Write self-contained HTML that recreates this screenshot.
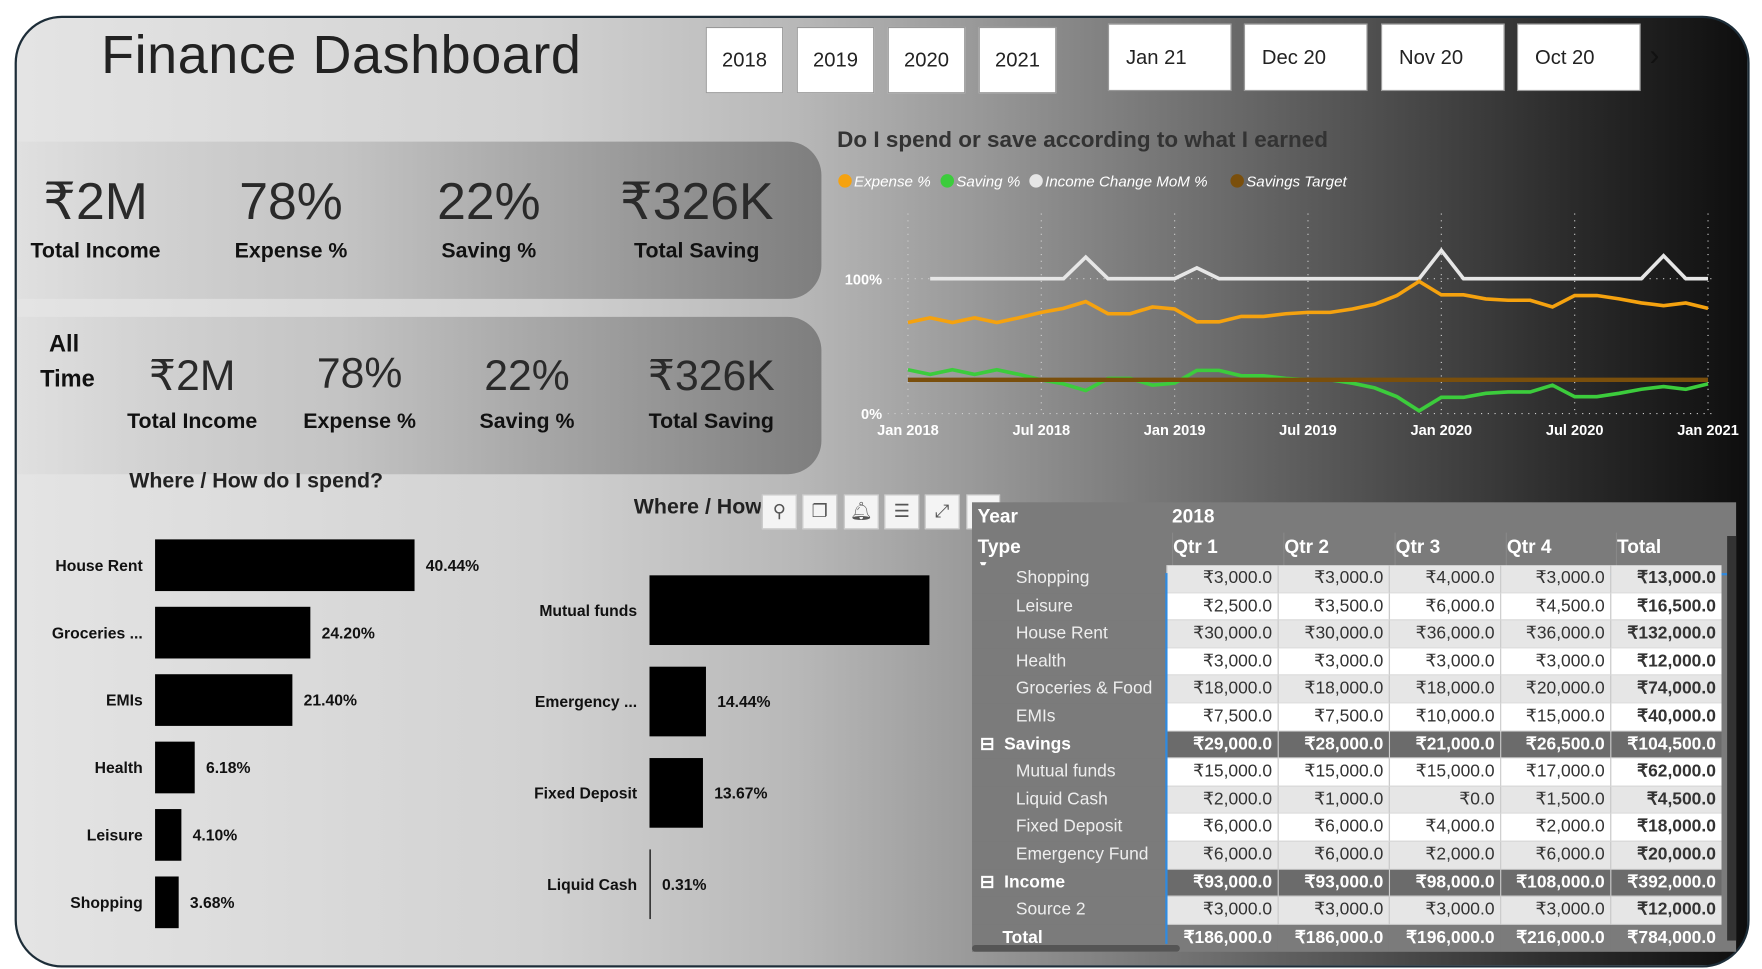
<!DOCTYPE html>
<html><head><meta charset="utf-8">
<style>
html,body{margin:0;padding:0;background:#fff;width:1762px;height:969px;overflow:hidden}
#wrap{position:absolute;left:0;top:0;width:1568px;height:862px;transform:scale(1.1237);transform-origin:0 0;font-family:"Liberation Sans",sans-serif}
#frame{position:absolute;left:13px;top:14px;width:1540px;height:843px;border:2px solid #1d2d38;border-radius:42px;overflow:hidden;
background:linear-gradient(90deg,#e4e4e4 0%,#d2d2d2 30%,#b8b8b8 45%,#9a9a9a 55%,#5a5a5a 75%,#2a2a2a 90%,#0e0e0e 100%)}
.abs{position:absolute}
.btn{position:absolute;background:#fff;border:1px solid #999;font-size:18px;color:#222;display:flex;align-items:center;box-sizing:border-box}
.card{position:absolute;left:0;width:716px;height:140px;border-radius:0 30px 30px 0;background:linear-gradient(90deg,rgba(200,200,200,0.15),#c4c4c4 40%,#7e7e7e 100%)}
.kv{position:absolute;transform:translateX(-50%);white-space:nowrap;color:#2a2a2a;text-align:center}
.kl{position:absolute;transform:translateX(-50%);white-space:nowrap;color:#111;font-weight:bold;font-size:19px}
.tb{position:absolute;width:31px;height:31px;background:#f4f4f4;border:1px solid #ccc;box-sizing:border-box;top:440px;color:#555;font-size:16px;text-align:center;line-height:29px}
#tbl{position:absolute;left:865px;top:447px;width:680px;height:400px;background:#7b7b7b;overflow:hidden;font-size:15.5px}
.cell{position:absolute;box-sizing:border-box;height:24.6px;line-height:24.6px;padding-right:5px;text-align:right;color:#333;white-space:nowrap}
</style></head><body>
<div id="wrap">
<div id="frame"></div>
<div class="abs" style="left:90px;top:22px;font-size:48px;color:#222;letter-spacing:0.5px">Finance Dashboard</div>

<div class="btn" style="left:628px;top:24px;width:69px;height:59px;justify-content:center">2018</div>
<div class="btn" style="left:709px;top:24px;width:69px;height:59px;justify-content:center">2019</div>
<div class="btn" style="left:790px;top:24px;width:69px;height:59px;justify-content:center">2020</div>
<div class="btn" style="left:871px;top:24px;width:69px;height:59px;justify-content:center">2021</div>
<div class="btn" style="left:986px;top:21px;width:110px;height:60px;padding-left:15px">Jan 21</div>
<div class="btn" style="left:1107px;top:21px;width:110px;height:60px;padding-left:15px">Dec 20</div>
<div class="btn" style="left:1229px;top:21px;width:110px;height:60px;padding-left:15px">Nov 20</div>
<div class="btn" style="left:1350px;top:21px;width:110px;height:60px;padding-left:15px">Oct 20</div>
<div class="abs" style="left:1468px;top:34px;font-size:26px;color:#111">›</div>

<div class="card" style="top:126px;left:15px"></div>
<div class="card" style="top:282px;left:15px"></div>

<div class="kv" style="left:85px;top:152px;font-size:46px">₹2M</div>
<div class="kl" style="left:85px;top:213px">Total Income</div>
<div class="kv" style="left:259px;top:152px;font-size:46px">78%</div>
<div class="kl" style="left:259px;top:213px">Expense %</div>
<div class="kv" style="left:435px;top:152px;font-size:46px">22%</div>
<div class="kl" style="left:435px;top:213px">Saving %</div>
<div class="kv" style="left:620px;top:152px;font-size:46px">₹326K</div>
<div class="kl" style="left:620px;top:213px">Total Saving</div>

<div class="kl" style="left:57px;top:295px;font-size:21px">All</div>
<div class="kl" style="left:60px;top:326px;font-size:21px">Time</div>
<div class="kv" style="left:171px;top:312px;font-size:38px">₹2M</div>
<div class="kl" style="left:171px;top:365px">Total Income</div>
<div class="kv" style="left:320px;top:312px;font-size:38px">78%</div>
<div class="kl" style="left:320px;top:365px">Expense %</div>
<div class="kv" style="left:469px;top:314px;font-size:38px">22%</div>
<div class="kl" style="left:469px;top:365px">Saving %</div>
<div class="kv" style="left:633px;top:312px;font-size:38px">₹326K</div>
<div class="kl" style="left:633px;top:365px">Total Saving</div>

<div class="abs" style="left:115px;top:418px;font-size:19px;font-weight:bold;color:#222">Where / How do I spend?</div>
<div class="abs" style="left:564px;top:441px;font-size:19px;font-weight:bold;color:#222;width:113px;overflow:hidden;white-space:nowrap">Where / How do I save?</div>

<div class="abs" style="left:745px;top:114px;font-size:20px;font-weight:bold;color:#333">Do I spend or save according to what I earned</div>

<svg id="charts" class="abs" style="left:0;top:0" width="1568" height="862"></svg>

<div class="tb" style="left:678px">⚲</div>
<div class="tb" style="left:714px">❐</div>
<div class="tb" style="left:751px">🔔︎</div>
<div class="tb" style="left:787px">☰</div>
<div class="tb" style="left:823px">⤢</div>
<div class="tb" style="left:860px;width:30px"></div>

<div id="tbl"></div>

<script>
const NS="http://www.w3.org/2000/svg";
const svg=document.getElementById('charts');
function mk(tag,attrs,parent){const e=document.createElementNS(NS,tag);for(const k in attrs)e.setAttribute(k,attrs[k]);(parent||svg).appendChild(e);return e;}
const FF='Liberation Sans, sans-serif';

// ---- Line chart data ----
const expensePct=[67.5,71,67.5,71,67.5,71,75,78,83,74,74,79,77.5,68,68,72,72,74,75,75,77.5,81,87.5,98,88,88,85,84,84,79,87.5,87.5,85,82,80,82,78];
const savingPct=[32.5,29,32.5,29,32.5,29,25,22,17,26,26,21,22.5,32,32,28,28,26,25,25,22.5,19,12.5,2,12,12,15,16,16,21,12.5,12.5,15,18,20,18,22];
const incomeChange=[null,100,100,100,100,100,100,100,116,100,100,100,100,108,100,100,100,100,100,100,100,100,100,100,121,100,100,100,100,100,100,100,100,100,117,100,100];
const savingsTarget=25;
const xTickIdx=[0,6,12,18,24,30,36];
const xTickLabels=["Jan 2018","Jul 2018","Jan 2019","Jul 2019","Jan 2020","Jul 2020","Jan 2021"];
const yTicks=[0,100];
const yTickLabels=["0%","100%"];

const lx=i=>808+i*(1520-808)/36;
const ly=v=>368-v*1.2;

xTickIdx.forEach((ix,k)=>{
  const g=mk('line',{x1:lx(ix),x2:lx(ix),y1:190,y2:370,stroke:'#cfcfcf','stroke-width':1,'stroke-dasharray':'1 5'});
  
  
  const t=mk('text',{x:lx(ix),y:387,'text-anchor':'middle','font-size':13,'font-weight':'bold',fill:'#fff','font-family':FF});
  t.textContent=xTickLabels[k];
  
  
});
yTicks.forEach((v,k)=>{
  const g=mk('line',{x1:790,x2:1525,y1:ly(v),y2:ly(v),stroke:'#cfcfcf','stroke-width':1,'stroke-dasharray':'1 5'});
  
  
  const t=mk('text',{x:785,y:ly(v)+5,'text-anchor':'end','font-size':13,'font-weight':'bold',fill:'#fff','font-family':FF});
  t.textContent=yTickLabels[k];
  
  
});
function poly(arr,color,name,w){
  const pts=[];arr.forEach((v,i)=>{if(v!==null)pts.push(lx(i)+','+ly(v));});
  const p=mk('polyline',{points:pts.join(' '),fill:'none',stroke:color,'stroke-width':w||3.2,'stroke-linejoin':'miter'});
  
  
}
poly(incomeChange,'#e6e6e6','income-change-line');
poly(expensePct,'#f5a20f','expense-line');
poly(savingPct,'#3ccc3c','saving-line');
const tgt=mk('line',{x1:lx(0),x2:lx(36),y1:ly(savingsTarget),y2:ly(savingsTarget),stroke:'#7a4f0c','stroke-width':4});



// legend
const legNames=["Expense %","Saving %","Income Change MoM %","Savings Target"];
const legColors=['#f5a20f','#3ccc3c','#e6e6e6','#7a4f0c'];
const legX=[752,843,922,1101];
legNames.forEach((n,k)=>{
  const c=mk('circle',{cx:legX[k],cy:161,r:6,fill:legColors[k]});
  
  
  const t=mk('text',{x:legX[k]+8,y:166,'font-size':13.5,'font-style':'italic',fill:'#fff','font-family':FF});
  t.textContent=n;
  
  
});

// ---- Spend bar chart ----
const spendCats=["House Rent","Groceries ...","EMIs","Health","Leisure","Shopping"];
const spendVals=[40.44,24.20,21.40,6.18,4.10,3.68];
const sx=v=>138+v*5.71;
spendCats.forEach((c,i)=>{
  const cy=503+i*60;
  const r=mk('rect',{x:138,y:cy-23,width:sx(spendVals[i])-138,height:46,fill:'#000'});
  
  
  const t=mk('text',{x:127,y:cy+5,'text-anchor':'end','font-size':14,'font-weight':'bold',fill:'#111','font-family':FF});
  t.textContent=c;
  
  
  const v=mk('text',{x:sx(spendVals[i])+10,y:cy+5,'font-size':14,'font-weight':'bold',fill:'#111','font-family':FF});
  v.textContent=spendVals[i].toFixed(2)+'%';
  
  
});

// ---- Save bar chart ----
const saveCats=["Mutual funds","Emergency ...","Fixed Deposit","Liquid Cash"];
const saveVals=[71.58,14.44,13.67,0.31];
const vx=v=>578+v*3.48;
saveCats.forEach((c,i)=>{
  const cy=543+i*81.3;
  const r=mk('rect',{x:578,y:cy-31,width:Math.max(1,vx(saveVals[i])-578),height:62,fill:'#000'});
  
  
  const t=mk('text',{x:567,y:cy+5,'text-anchor':'end','font-size':14,'font-weight':'bold',fill:'#111','font-family':FF});
  t.textContent=c;
  
  
  if(i>0){
    const v=mk('text',{x:vx(saveVals[i])+10,y:cy+5,'font-size':14,'font-weight':'bold',fill:'#111','font-family':FF});
    v.textContent=saveVals[i].toFixed(2)+'%';
    
    
  }
});

// ---- Table ----
const tbl=document.getElementById('tbl');
const colX=[0,173,272,371,470,568,667];
const rows=[
 ["Shopping","₹3,000.0","₹3,000.0","₹4,000.0","₹3,000.0","₹13,000.0",0],
 ["Leisure","₹2,500.0","₹3,500.0","₹6,000.0","₹4,500.0","₹16,500.0",0],
 ["House Rent","₹30,000.0","₹30,000.0","₹36,000.0","₹36,000.0","₹132,000.0",0],
 ["Health","₹3,000.0","₹3,000.0","₹3,000.0","₹3,000.0","₹12,000.0",0],
 ["Groceries & Food","₹18,000.0","₹18,000.0","₹18,000.0","₹20,000.0","₹74,000.0",0],
 ["EMIs","₹7,500.0","₹7,500.0","₹10,000.0","₹15,000.0","₹40,000.0",0],
 ["Savings","₹29,000.0","₹28,000.0","₹21,000.0","₹26,500.0","₹104,500.0",1],
 ["Mutual funds","₹15,000.0","₹15,000.0","₹15,000.0","₹17,000.0","₹62,000.0",0],
 ["Liquid Cash","₹2,000.0","₹1,000.0","₹0.0","₹1,500.0","₹4,500.0",0],
 ["Fixed Deposit","₹6,000.0","₹6,000.0","₹4,000.0","₹2,000.0","₹18,000.0",0],
 ["Emergency Fund","₹6,000.0","₹6,000.0","₹2,000.0","₹6,000.0","₹20,000.0",0],
 ["Income","₹93,000.0","₹93,000.0","₹98,000.0","₹108,000.0","₹392,000.0",1],
 ["Source 2","₹3,000.0","₹3,000.0","₹3,000.0","₹3,000.0","₹12,000.0",0]
];
function add(html,style,name,inter){
  const d=document.createElement('div');d.className='cell';d.innerHTML=html;d.style.cssText+=style;
  
  
  tbl.appendChild(d);return d;
}
add('Year','left:0;top:0;height:26px;line-height:26px;text-align:left;padding-left:5px;color:#fff;font-weight:bold;font-size:17px','year-header');
add('2018','left:178px;top:0;height:26px;line-height:26px;text-align:left;color:#fff;font-weight:bold;font-size:17px','year-2018-header');
add('Type<br><span style="font-size:10px;line-height:8px;display:block">▼</span>','left:0;top:27px;height:36px;line-height:26px;text-align:left;padding-left:5px;color:#fff;font-weight:bold;font-size:17px','type-header');
["Qtr 1","Qtr 2","Qtr 3","Qtr 4","Total"].forEach((q,k)=>{
  add(q,'left:'+(colX[k+1]+5)+'px;top:27px;height:30px;line-height:26px;text-align:left;color:#fff;font-weight:bold;font-size:17px;border-left:1px solid #888','column-header-'+k);
});
const hl=document.createElement('div');hl.style.cssText='position:absolute;left:0;top:63px;width:672px;height:2px;background:#2f8ae0';


tbl.appendChild(hl);
rows.forEach((r,i)=>{
  const top=56+i*24.6;
  const grp=r[6];
  const bg=grp?'#6b6b6b':(i%2===0?'#e6e6e6':'#ffffff');
  add((grp?'⊟&nbsp; ':'')+r[0],'left:0;top:'+top+'px;width:173px;text-align:left;padding-left:'+(grp?'7px':'39px')+';color:'+(grp?'#fff':'#eee')+';background:#7b7b7b;font-weight:'+(grp?'bold':'normal'),'row-label',grp);
  for(let k=1;k<=5;k++){
    add(r[k],'left:'+colX[k]+'px;top:'+top+'px;width:'+(colX[k+1]-colX[k])+'px;background:'+bg+';color:'+(grp?'#fff':'#333')+';font-weight:'+((grp||k===5)?'bold':'normal')+';border-left:1px solid #ccc;border-bottom:1px solid #ddd','table-cell',false);
  }
});
const tt=56+13*24.6;
add('Total','left:0;top:'+tt+'px;width:173px;text-align:left;padding-left:27px;color:#fff;font-weight:bold;background:#7b7b7b','total-row-label');
["₹186,000.0","₹186,000.0","₹196,000.0","₹216,000.0","₹784,000.0"].forEach((v,k)=>{
  add(v,'left:'+colX[k+1]+'px;top:'+tt+'px;width:'+(colX[k+2]-colX[k+1])+'px;color:#fff;font-weight:bold;background:#7b7b7b','total-row-cell');
});
const blueL=document.createElement('div');blueL.style.cssText='position:absolute;left:172px;top:63px;width:2px;height:330px;background:#2f8ae0';


tbl.appendChild(blueL);
const vs=document.createElement('div');vs.style.cssText='position:absolute;left:672px;top:30px;width:8px;height:360px;background:#333';


tbl.appendChild(vs);
const hs=document.createElement('div');hs.style.cssText='position:absolute;left:0;top:394px;width:185px;height:6px;background:#555;border-radius:3px';


tbl.appendChild(hs);
</script>
</div>
</body></html>
